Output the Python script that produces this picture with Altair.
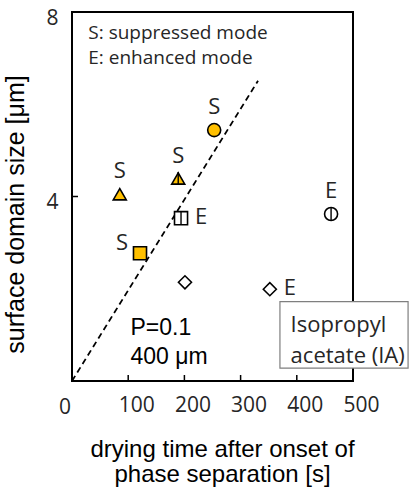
import altair as alt
import pandas as pd

# ---- data ----
time_s = [253, 189, 85, 194, 121, 201, 352, 461]
size_um = [5.44, 4.39, 4.05, 3.53, 2.77, 2.14, 1.99, 3.62]
marker = ["circle", "triangle", "triangle", "square", "square", "diamond", "diamond", "circle"]
mode = ["S", "S", "S", "E", "S", "", "E", "E"]
label_side = ["above", "above", "above", "right", "left", "none", "right", "above"]
has_bar = [False, True, False, True, False, False, False, True]

fit_x = [0, 331]
fit_y = [0, 6.51]

x_ticks = [0, 100, 200, 300, 400, 500]
y_ticks = [0, 4, 8]
x_inner_ticks = [100, 200, 300, 400]
y_inner_ticks = [4]

legend_lines = ["S: suppressed mode", "E: enhanced mode"]
legend_x = [29, 29]
legend_y = [7.54, 7.0]

cond_lines = ["P=0.1", "400 \u03bcm"]
cond_x = [104, 104]
cond_y = [1.15, 0.53]

box_x = [370]
box_x2 = [598]
box_y = [1.72]
box_y2 = [0.28]
box_lines = ["Isopropyl", "acetate (IA)"]
box_text_x = [389, 389]
box_text_y = [1.21, 0.55]

W, H = 281, 369
GOLD = "#FFC000"
TXT = "#262626"
THIN = "Open Sans"
SANS = "Liberation Sans"

pts = pd.DataFrame({"t": time_s, "d": size_um, "marker": marker, "mode": mode,
                    "side": label_side, "bar": has_bar})

xs = alt.Scale(domain=[0, 500], nice=False)
ys = alt.Scale(domain=[0, 8], nice=False)

frame = alt.Chart(pd.DataFrame({"a": [0]})).mark_rect(
    fillOpacity=0, stroke="black", strokeWidth=2
).encode(x=alt.value(0), x2=alt.value(W), y=alt.value(0), y2=alt.value(H))

fit = alt.Chart(pd.DataFrame({"t": fit_x, "d": fit_y})).mark_line(
    color="black", strokeWidth=1.8, strokeDash=[6, 4]
).encode(x=alt.X("t:Q", scale=xs), y=alt.Y("d:Q", scale=ys))

xt = alt.Chart(pd.DataFrame({"t": x_inner_ticks})).mark_rule(
    color="black", strokeWidth=1.5
).encode(x=alt.X("t:Q", scale=xs), y=alt.value(H), y2=alt.value(H - 6))

yt = alt.Chart(pd.DataFrame({"d": y_inner_ticks})).mark_rule(
    color="black", strokeWidth=1.5
).encode(y=alt.Y("d:Q", scale=ys), x=alt.value(0), x2=alt.value(6))

points = alt.Chart(pts).mark_point(
    filled=True, size=170, stroke="black", strokeWidth=1.6, opacity=1
).encode(
    x=alt.X("t:Q", scale=xs, axis=alt.Axis(
        values=x_ticks, labelExpr="datum.value == 0 ? '' : datum.label",
        labelOffset=8, labelPadding=13, ticks=False, domain=False, grid=False,
        labelFlush=False, labelOverlap=False, labelBound=False,
        labelFont=THIN, labelFontSize=21, labelColor=TXT,
        title=["drying time after onset of", "phase separation [s]"],
        titleFont=SANS, titleFontSize=24, titleFontWeight="normal", titleColor="black",
        titleX=150, titleY=56, titleBaseline="top", titleLineHeight=25, titleAnchor="middle",
    )),
    y=alt.Y("d:Q", scale=ys, axis=alt.Axis(
        values=y_ticks, labelExpr="datum.value == 0 ? '' : datum.label",
        labelOffset=6, labelPadding=14, ticks=False, domain=False, grid=False,
        labelFlush=False, labelOverlap=False, labelBound=False,
        labelFont=THIN, labelFontSize=21, labelColor=TXT,
        title="surface domain size [\u03bcm]",
        titleFont=SANS, titleFontSize=25, titleFontWeight="normal", titleColor="black",
        titleX=-57, titleY=202, titleAngle=-90, titleBaseline="middle", titleAnchor="middle",
    )),
    shape=alt.Shape("marker:N", scale=alt.Scale(
        domain=["circle", "triangle", "square", "diamond"],
        range=["circle", "triangle-up", "square", "diamond"]), legend=None),
    fill=alt.Fill("mode:N", scale=alt.Scale(domain=["S", "E", ""],
                                            range=[GOLD, "white", "white"]), legend=None),
)

bars = alt.Chart(pts).transform_filter("datum.bar").mark_point(
    shape="M0,-1L0,1", size=170, stroke="black", strokeWidth=1.4, filled=False, opacity=1
).encode(x=alt.X("t:Q", scale=xs), y=alt.Y("d:Q", scale=ys))


def labels(side, dx, dy):
    return alt.Chart(pts).transform_filter(f"datum.side == '{side}'").mark_text(
        font=THIN, fontSize=22, color=TXT, dx=dx, dy=dy, align="center", baseline="middle"
    ).encode(x=alt.X("t:Q", scale=xs), y=alt.Y("d:Q", scale=ys), text="mode:N")


lab_above = labels("above", 0, -23)
lab_right = labels("right", 20, -1)
lab_left = labels("left", -18, -10)

leg = alt.Chart(pd.DataFrame({"x": legend_x, "y": legend_y, "s": legend_lines})).mark_text(
    font=THIN, fontSize=19, color=TXT, align="left", baseline="middle"
).encode(x=alt.X("x:Q", scale=xs), y=alt.Y("y:Q", scale=ys), text="s:N")

cond = alt.Chart(pd.DataFrame({"x": cond_x, "y": cond_y, "s": cond_lines})).mark_text(
    font=SANS, fontSize=23, color="black", align="left", baseline="middle"
).encode(x=alt.X("x:Q", scale=xs), y=alt.Y("y:Q", scale=ys), text="s:N")

box = alt.Chart(pd.DataFrame({"x": box_x, "x2": box_x2, "y": box_y, "y2": box_y2})).mark_rect(
    fill="white", stroke="#7f7f7f", strokeWidth=1.2
).encode(x=alt.X("x:Q", scale=xs), x2="x2:Q", y=alt.Y("y:Q", scale=ys), y2="y2:Q")

box_txt = alt.Chart(pd.DataFrame({"x": box_text_x, "y": box_text_y, "s": box_lines})).mark_text(
    font=THIN, fontSize=22, color=TXT, align="left", baseline="middle"
).encode(x=alt.X("x:Q", scale=xs), y=alt.Y("y:Q", scale=ys), text="s:N")

zero_lab = alt.Chart(pd.DataFrame({"t": [0], "s": ["0"]})).mark_text(
    font=THIN, fontSize=21, color=TXT, align="center", baseline="middle", dx=-7
).encode(x=alt.X("t:Q", scale=xs), y=alt.value(H + 27), text="s:N")

chart = alt.layer(
    frame, fit, xt, yt, points, bars, lab_above, lab_right, lab_left,
    leg, cond, box, box_txt, zero_lab
).properties(
    width=W, height=H,
    autosize=alt.AutoSizeParams(type="none"),
    padding={"left": 72, "top": 12, "right": 63, "bottom": 109},
).configure_view(stroke=None).configure(background="white")

chart.save("out.html", embed_options={"renderer": "svg", "actions": False})
